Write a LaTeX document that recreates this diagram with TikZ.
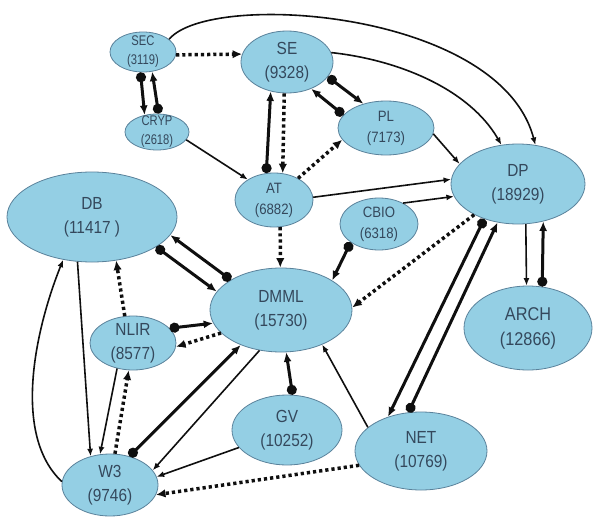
\documentclass[tikz,border=0pt]{standalone}
\usepackage{fontspec}
\setmainfont{Liberation Sans}
\newfontfamily\nodefont[FakeStretch=0.88]{Liberation Sans}
\newfontfamily\smallnodefont[FakeStretch=0.8]{Liberation Sans}
\usetikzlibrary{shapes.geometric,arrows.meta}
\definecolor{nodefill}{RGB}{148,207,228}
\definecolor{nodeline}{RGB}{90,130,155}
\definecolor{nodetext}{RGB}{52,72,92}
\definecolor{edgecol}{RGB}{15,15,15}
\tikzset{
  topic/.style={ellipse, draw=nodeline, line width=0.8pt, fill=nodefill,
    inner sep=-4pt, align=center, text=nodetext},
  fsmall/.style={font=\smallnodefont\fontsize{14}{19}\selectfont},
  fmed/.style={font=\nodefont\fontsize{15}{21}\selectfont},
  fbig/.style={font=\nodefont\fontsize{17.5}{24}\selectfont},
  fhuge/.style={font=\nodefont\fontsize{18.5}{25}\selectfont},
  thinarr/.style={draw=edgecol, line width=1.6pt, -{Latex[length=7.5pt,width=6pt]}},
  thickarr/.style={draw=edgecol, line width=3pt, {Circle[length=10pt]}-{Latex[length=9.5pt,width=8pt]}},
  dotarr/.style={draw=edgecol, line width=3.5pt, dash pattern=on 3.2pt off 3pt, -{Latex[length=9.5pt,width=8.5pt]}},
}
\begin{document}
\begin{tikzpicture}[x=1pt,y=-1pt]
\fill[white] (0,0) rectangle (598,517);
\useasboundingbox (0,0) rectangle (598,517);

% nodes
\node[topic, fsmall, minimum width=66pt, minimum height=40pt] (SEC) at (143,52) {SEC\\(3119)};
\node[topic, fsmall, minimum width=64pt, minimum height=36pt] (CRYP) at (157,132) {CRYP\\(2618)};
\node[topic, fbig, minimum width=92pt, minimum height=62pt] (SE) at (287,62) {SE\\(9328)};
\node[topic, fmed, minimum width=96pt, minimum height=54pt] (PL) at (386,128) {PL\\(7173)};
\node[topic, fbig, minimum width=134pt, minimum height=80pt] (DP) at (518,184) {DP\\(18929)};
\node[topic, fmed, minimum width=78pt, minimum height=54pt] (AT) at (274,200) {AT\\(6882)};
\node[topic, fmed, minimum width=78pt, minimum height=52pt] (CBIO) at (379,224) {CBIO\\(6318)};
\node[topic, fbig, minimum width=170pt, minimum height=90pt] (DB) at (92,217) {DB\\(11417 )};
\node[topic, fbig, minimum width=142pt, minimum height=84pt] (DMML) at (281,310) {DMML\\(15730)};
\node[topic, fbig, minimum width=86pt, minimum height=54pt] (NLIR) at (133,343) {NLIR\\(8577)};
\node[topic, fhuge, minimum width=128pt, minimum height=84pt] (ARCH) at (528,328) {ARCH\\(12866)};
\node[topic, fbig, minimum width=110pt, minimum height=70pt] (GV) at (287,430) {GV\\(10252)};
\node[topic, fbig, minimum width=132pt, minimum height=78pt] (NET) at (421,451) {NET\\(10769)};
\node[topic, fbig, minimum width=96pt, minimum height=62pt] (W3) at (110,485) {W3\\(9746)};

% edges
\draw[thinarr] (SEC.26) .. controls (210,-10) and (500,10) .. (DP.66);
\draw[dotarr] (SEC.-5) -- (SE.170);
\draw[thickarr] (SEC.263) -- (CRYP.126);
\draw[thickarr] (CRYP.85) -- (SEC.-65);
\draw[thinarr] (CRYP.-15) -- (AT.142);
\draw[thickarr] (AT.106) -- (SE.241);
\draw[dotarr] (SE.265) -- (AT.72);
\draw[thickarr] (SE.-20) -- (PL.133);
\draw[thickarr] (PL.163) -- (SE.-48);
\draw[dotarr] (AT.42) -- (PL.195);
\draw[thinarr] (SE.12) .. controls (400,60) and (470,90) .. (DP.113);
\draw[thinarr] (PL.-7) -- (DP.161);
\draw[thinarr] (AT.4) -- (DP.176);
\draw[thinarr] (CBIO.41) -- (DP.191);
\draw[dotarr] (AT.283) -- (DMML.91);
\draw[thickarr] (CBIO.213) -- (DMML.30);
\draw[dotarr] (DP.215) -- (DMML.2);
\draw[thickarr] (DMML.149) -- (DB.-13);
\draw[thickarr] (DB.-25) -- (DMML.164);
\draw[thickarr] (NLIR.22) -- (DMML.191);
\draw[dotarr] (DMML.201) -- (NLIR.-5);
\draw[dotarr] (NLIR.107) -- (DB.-61);
\draw[thinarr] (DB.252) -- (W3.124);
\draw[thinarr] (W3.176) .. controls (12,435) and (35,330) .. (DB.236);
\draw[thinarr] (NLIR.238) -- (W3.108);
\draw[dotarr] (W3.81) -- (NLIR.261);
\draw[thickarr] (W3.56) -- (DMML.221);
\draw[thinarr] (DMML.242) -- (W3.19);
\draw[thinarr] (GV.200) -- (W3.10);
\draw[thickarr] (GV.81) -- (DMML.277);
\draw[dotarr] (NET.193) -- (W3.-12);
\draw[thinarr] (NET.156) -- (DMML.-40);
\draw[thickarr] (DP.226) -- (NET.134);
\draw[thickarr] (NET.108) -- (DP.242);
\draw[thinarr] (DP.281) -- (ARCH.92);
\draw[thickarr] (ARCH.71) -- (DP.-56);
\end{tikzpicture}
\end{document}
